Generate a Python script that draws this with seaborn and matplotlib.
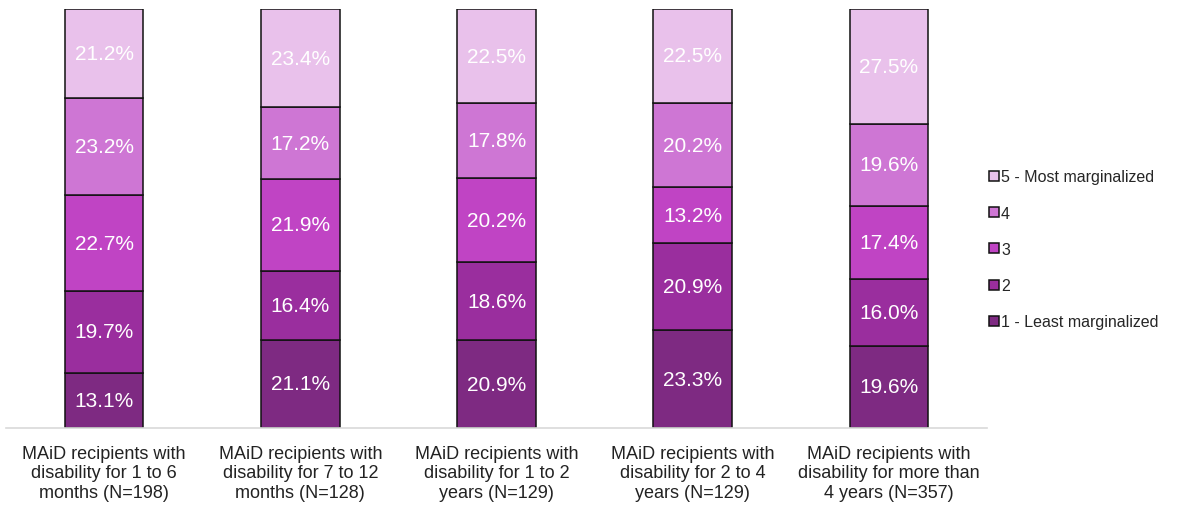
import numpy as np
import pandas as pd
import seaborn as sns
import matplotlib.pyplot as plt
from matplotlib.patches import Patch

# categories and values (percent)
groups = [
    "MAiD recipients with\ndisability for 1 to 6\nmonths (N=198)",
    "MAiD recipients with\ndisability for 7 to 12\nmonths (N=128)",
    "MAiD recipients with\ndisability for 1 to 2\nyears (N=129)",
    "MAiD recipients with\ndisability for 2 to 4\nyears (N=129)",
    "MAiD recipients with\ndisability for more than\n4 years (N=357)",
]
levels = ["1 - Least marginalized", "2", "3", "4", "5 - Most marginalized"]
q1 = [13.1, 21.1, 20.9, 23.3, 19.6]
q2 = [19.7, 16.4, 18.6, 20.9, 16.0]
q3 = [22.7, 21.9, 20.2, 13.2, 17.4]
q4 = [23.2, 17.2, 17.8, 20.2, 19.6]
q5 = [21.2, 23.4, 22.5, 22.5, 27.5]
colors = ["#7e2a82", "#9a2e9e", "#c044c4", "#ce76d4", "#e9c1eb"]

sns.set_theme(style="white")
plt.rcParams["font.family"] = ["Liberation Sans", "DejaVu Sans"]

fig = plt.figure(figsize=(11.93, 5.06), dpi=100)
ax = fig.add_axes([6 / 1193, 77 / 506, 981 / 1193, 419 / 506])

bottom = np.zeros(len(groups))
for lev, vals, col in zip(levels, [q1, q2, q3, q4, q5], colors):
    df = pd.DataFrame({"group": groups, "pct": vals})
    sns.barplot(data=df, x="group", y="pct", order=groups, color=col,
                width=0.4, bottom=bottom, edgecolor="#111111",
                linewidth=1.1, saturation=1, ax=ax)
    bottom = bottom + np.array(vals)

for cont in ax.containers:
    ax.bar_label(cont, labels=[f"{b.get_height():.1f}%" for b in cont],
                 label_type="center", color="white", fontsize=15)

ax.set_ylim(0, 100)
ax.set_xlim(-0.5, len(groups) - 0.5)
ax.set_xlabel("")
ax.set_ylabel("")
ax.set_yticks([])
ax.tick_params(axis="x", length=0, pad=12, labelsize=13, colors="#222222")
for lab in ax.get_xticklabels():
    lab.set_linespacing(1.2)
for s in ["top", "left", "right"]:
    ax.spines[s].set_visible(False)
ax.spines["bottom"].set_color("#d9d9d9")
ax.spines["bottom"].set_linewidth(1.2)

handles = [Patch(facecolor=c, edgecolor="#111111", linewidth=1.1) for c in colors]
fig.legend(handles[::-1], levels[::-1], loc="center left",
           bbox_to_anchor=(989 / 1193, 0.505), frameon=False,
           fontsize=11.5, handlelength=0.6, handleheight=0.6,
           handletextpad=0.15, labelspacing=1.33, borderpad=0,
           borderaxespad=0)

fig.savefig("out.png", dpi=100)
